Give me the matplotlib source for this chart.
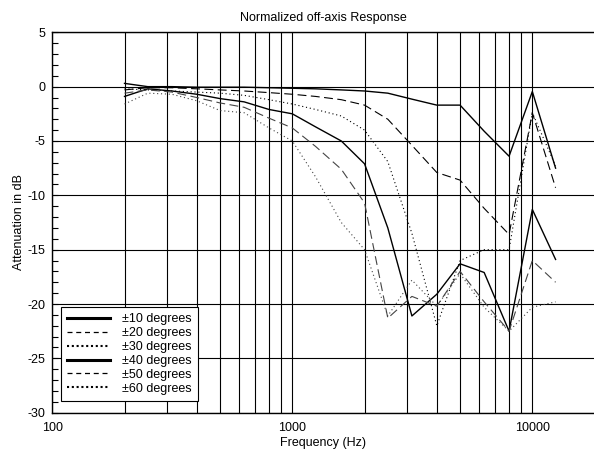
import numpy as np
import matplotlib
matplotlib.use("Agg")
import matplotlib.pyplot as plt
from matplotlib.ticker import LogLocator, MultipleLocator, NullFormatter

plt.rcParams['font.family'] = ['Liberation Sans', 'DejaVu Sans']
plt.rcParams['axes.unicode_minus'] = False

# 1/3 octave frequencies (Hz)
freqs = [200, 250, 315, 400, 500, 630, 800, 1000, 1250, 1600, 2000,
         2500, 3150, 4000, 5000, 6300, 8000, 10000, 12500]

# attenuation in dB
deg10 = [0.3, 0.0, 0.0, -0.05, -0.05, -0.05, -0.1, -0.15, -0.2, -0.3, -0.4,
         -0.6, -1.15, -1.7, -1.7, -4.1, -6.4, -0.45, -7.5]
deg20 = [-0.3, -0.1, -0.1, -0.2, -0.3, -0.4, -0.55, -0.7, -0.9, -1.2, -1.7,
         -3.0, -5.4, -7.9, -8.6, -11.2, -13.6, -2.4, -9.3]
deg30 = [-0.2, -0.3, -0.4, -0.5, -0.6, -0.8, -1.2, -1.6, -2.1, -2.7, -4.0,
         -6.9, -13.5, -22.0, -16.0, -15.0, -15.0, -2.4, -7.3]
deg40 = [-0.9, -0.2, -0.4, -0.7, -1.1, -1.4, -2.1, -2.5, -3.7, -5.0, -7.1,
         -13.0, -21.1, -19.1, -16.3, -17.1, -22.5, -11.3, -15.9]
deg50 = [-0.6, -0.3, -0.5, -1.0, -1.5, -1.9, -2.9, -3.8, -5.5, -7.6, -10.7,
         -21.3, -19.3, -20.2, -17.0, -19.8, -22.5, -16.0, -18.0]
deg60 = [-1.6, -0.6, -0.7, -1.3, -2.2, -2.4, -3.8, -5.0, -8.3, -12.5, -15.0,
         -21.1, -17.8, -20.2, -17.2, -20.3, -22.5, -20.3, -19.8]

labels = ['±10 degrees', '±20 degrees', '±30 degrees',
          '±40 degrees', '±50 degrees', '±60 degrees']
series = [deg10, deg20, deg30, deg40, deg50, deg60]

solid = '-'
dashed = (0, (8, 4))
dotted = (0, (1, 2.5))
styles = [solid, dashed, dotted, solid, dashed, dotted]
colors = ['black', 'black', 'black', 'black', '#444444', '#444444']

fig = plt.figure(figsize=(5.94, 4.55), dpi=100)
ax = fig.add_axes([0.088, 0.093, 0.912, 0.836])

for vals, lab, ls, c in zip(series, labels, styles, colors):
    ax.plot(freqs, vals, linestyle=ls, color=c,
            linewidth=1.0 if ls == solid else 0.8, label=lab)

ax.set_xscale('log')
ax.set_xlim(100, 18070)
ax.set_ylim(-30, 5)

ax.xaxis.set_major_locator(LogLocator(base=10))
ax.xaxis.set_minor_locator(LogLocator(base=10, subs=np.arange(2, 10)))
ax.xaxis.set_minor_formatter(NullFormatter())
ax.set_xticks([100, 1000, 10000], ['100', '1000', '10000'])
ax.yaxis.set_major_locator(MultipleLocator(5))
ax.yaxis.set_minor_locator(MultipleLocator(1))

ax.tick_params(axis='x', which='both', length=0, labelsize=9, pad=7)
ax.tick_params(axis='y', which='both', direction='in', length=4,
               width=0.8, labelsize=9, pad=5)

ax.set_axisbelow(True)
ax.grid(True, axis='x', which='both', color='black', linewidth=0.8)
ax.grid(True, axis='y', which='major', color='black', linewidth=0.8)

ax.spines['right'].set_visible(False)
for s in ('left', 'bottom', 'top'):
    ax.spines[s].set_linewidth(1.0)

ax.set_title('Normalized off-axis Response', fontsize=9, pad=8)
ax.set_xlabel('Frequency (Hz)', fontsize=9, labelpad=2)
ax.set_ylabel('Attenuation in dB', fontsize=9, labelpad=2)

leg = ax.legend(loc='lower left', bbox_to_anchor=(0.016, 0.031),
                borderaxespad=0, fontsize=9, fancybox=False, framealpha=1,
                edgecolor='black', handlelength=3.4, handletextpad=1.0,
                labelspacing=0.15, borderpad=0.5)
leg.get_frame().set_linewidth(0.8)
for ln, ls in zip(leg.get_lines(), styles):
    ln.set_color('black')
    if ls == solid:
        ln.set_linewidth(2.2)
    elif ls == dashed:
        ln.set_linewidth(0.9)
        ln.set_linestyle((0, (4, 3)))
    else:
        ln.set_linewidth(1.5)
        ln.set_linestyle((0, (1, 1.3)))

fig.savefig('out.png', dpi=100)
